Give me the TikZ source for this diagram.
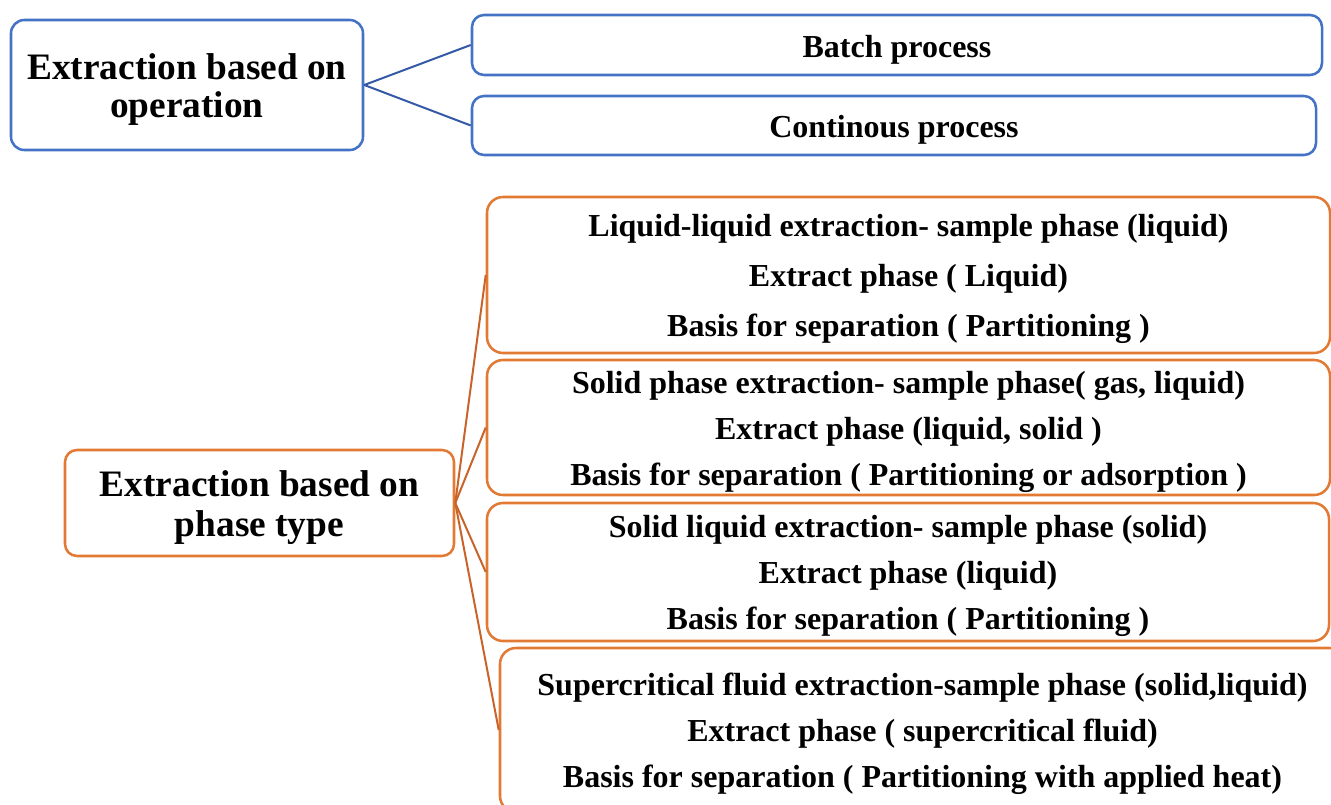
\documentclass[tikz,border=0pt]{standalone}
\usepackage{fontspec}
\setmainfont{Liberation Serif}
\definecolor{opblue}{RGB}{68,114,196}
\definecolor{opline}{RGB}{52,90,165}
\definecolor{phorange}{RGB}{226,122,52}
\definecolor{phline}{RGB}{200,100,42}
\newcommand\dn{\rule{0pt}{\dimexpr0.72em+6pt\relax}}
\tikzset{
  opbox/.style={draw=opblue, line width=1.9pt, rounded corners=9pt, inner sep=0pt, align=center, font=\bfseries\fontsize{24}{28}\selectfont},
  optitle/.style={opbox, rounded corners=10pt, font=\bfseries\fontsize{28}{29}\selectfont},
  phbox/.style={draw=phorange, line width=1.9pt, rounded corners=12pt, inner sep=0pt, align=center, font=\bfseries\fontsize{24}{34.5}\selectfont},
  phtitle/.style={phbox, rounded corners=9pt, font=\bfseries\fontsize{28}{30}\selectfont},
  opconn/.style={draw=opline, line width=1.5pt},
  phconn/.style={draw=phline, line width=1.5pt}
}
\begin{document}
\begin{tikzpicture}[x=0.75pt,y=-0.75pt]
\useasboundingbox (0,0) rectangle (1331,805);
\clip (0,0) rectangle (1331,805);
% top group
\node[optitle, minimum width=264pt, minimum height=97.5pt] (op) at (187,85) {\dn Extraction based on\\operation};
\node[opbox, minimum width=637.5pt, minimum height=45pt] (batch) at (897,45) {\dn Batch process};
\node[opbox, minimum width=633pt, minimum height=44.25pt] (cont) at (894,125.5) {\dn Continous process};
\draw[opconn] (op.east) -- (batch.west);
\draw[opconn] (op.east) -- (cont.west);
% bottom group
\node[phtitle, minimum width=291.75pt, minimum height=79.5pt] (phase) at (259.5,503) {\dn Extraction based on\\phase type};
\node[phbox, minimum width=632.25pt, minimum height=117pt, font=\bfseries\fontsize{24}{37.5}\selectfont] (l1) at (908.5,275) {\dn Liquid-liquid extraction- sample phase (liquid)\\Extract phase ( Liquid)\\Basis for separation ( Partitioning )};
\node[phbox, minimum width=632.25pt, minimum height=101.25pt] (l2) at (908.5,427.5) {\dn Solid phase extraction- sample phase( gas, liquid)\\Extract phase (liquid, solid )\\Basis for separation ( Partitioning or adsorption )};
\node[phbox, minimum width=631.5pt, minimum height=103.5pt] (l3) at (908,572) {\dn Solid liquid extraction- sample phase (solid)\\Extract phase (liquid)\\Basis for separation ( Partitioning )};
\node[phbox, minimum width=633.75pt, minimum height=123pt] (l4) at (922.5,730) {\dn Supercritical fluid extraction-sample phase (solid,liquid)\\Extract phase ( supercritical fluid)\\Basis for separation ( Partitioning with applied heat)};
\draw[phconn] (phase.east) -- (l1.west);
\draw[phconn] (phase.east) -- (l2.west);
\draw[phconn] (phase.east) -- (l3.west);
\draw[phconn] (phase.east) -- (l4.west);
\end{tikzpicture}
\end{document}
